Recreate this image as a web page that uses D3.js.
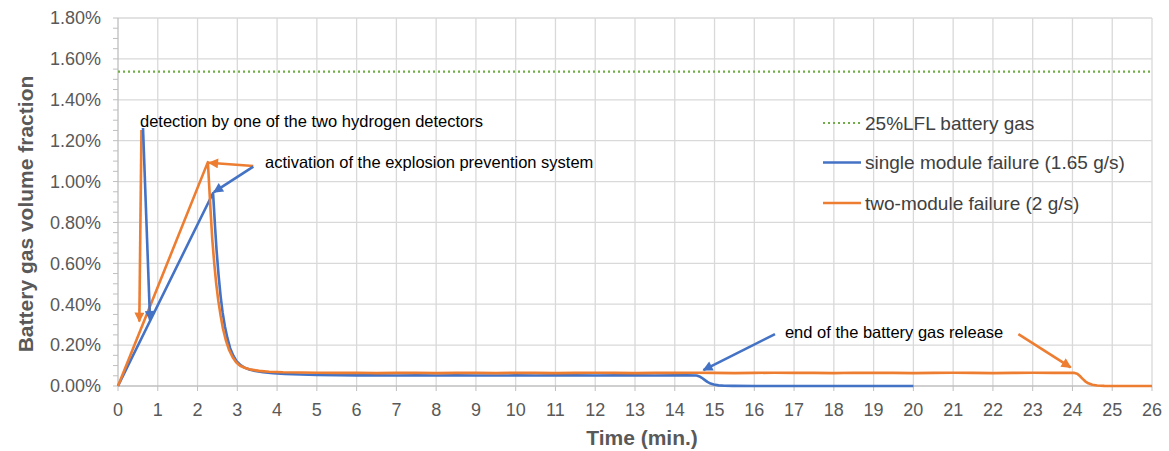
<!DOCTYPE html>
<html lang="en">
<head>
<meta charset="UTF-8">
<title>Battery gas volume fraction</title>
<script src="https://d3js.org/d3.v7.min.js"></script>
<style>
  body { margin: 0; background: #fff; }
  svg { font-family: "Liberation Sans", Arial, sans-serif; }
  .tick-label { font-size: 18px; fill: #595959; }
  .axis-title { font-size: 21px; font-weight: bold; fill: #595959; }
  .legend text { font-size: 19px; fill: #404040; }
  .note { font-size: 16.5px; fill: #000; }
</style>
</head>
<body>
<svg width="1169" height="451"></svg>
<script>
// ---- data (time in min., value in %) ----
var lflTime = [0, 26];
var lflValue = [1.5375, 1.5375];

var singleTime = [0, 2.39, 2.41, 2.44, 2.48, 2.53, 2.58, 2.63, 2.69, 2.75, 2.82, 2.90, 2.98, 3.07, 3.17, 3.3, 3.45, 3.65, 3.9, 4.2, 4.6, 5,
  5.5, 6, 6.5, 7, 7.5, 8, 8.5, 9, 9.5, 10, 10.5, 11, 11.5, 12, 12.5, 13, 13.5, 14, 14.3, 14.55,
  14.62, 14.68, 14.75, 14.82, 14.9, 14.98, 15.1, 15.25, 15.45, 16, 17, 18, 19, 20];
var singleValue = [0, 0.944, 0.88, 0.78, 0.66, 0.54, 0.44, 0.36, 0.29, 0.235, 0.185, 0.148, 0.122, 0.104, 0.091, 0.081, 0.074, 0.068, 0.063, 0.059, 0.056, 0.054,
  0.053, 0.052, 0.052, 0.051, 0.052, 0.051, 0.052, 0.051, 0.051, 0.052, 0.051, 0.052, 0.052, 0.051, 0.052, 0.052, 0.051, 0.052, 0.052, 0.051,
  0.047, 0.04, 0.03, 0.02, 0.012, 0.007, 0.003, 0.0012, 0.0004, 0, 0, 0, 0, 0];

var twoTime = [0, 2.26, 2.29, 2.33, 2.37, 2.42, 2.47, 2.52, 2.58, 2.64, 2.71, 2.79, 2.88, 2.97, 3.07, 3.2, 3.35, 3.55, 3.8, 4.15, 4.6, 5,
  5.5, 6, 6.5, 7, 7.5, 8, 8.5, 9, 9.5, 10, 10.5, 11, 11.5, 12, 12.5, 13, 13.5, 14, 14.5, 15, 15.5,
  16, 16.5, 17, 17.5, 18, 18.5, 19, 19.5, 20, 20.5, 21, 21.5, 22, 22.5, 23, 23.5, 24.05,
  24.12, 24.18, 24.25, 24.32, 24.4, 24.5, 24.62, 24.8, 25, 25.5, 26];
var twoValue = [0, 1.095, 0.99, 0.85, 0.72, 0.6, 0.5, 0.42, 0.345, 0.28, 0.225, 0.178, 0.142, 0.116, 0.099, 0.088, 0.080, 0.074, 0.070, 0.067, 0.066, 0.065,
  0.064, 0.065, 0.063, 0.064, 0.065, 0.063, 0.064, 0.064, 0.063, 0.065, 0.064, 0.063, 0.064, 0.065, 0.064, 0.063, 0.064, 0.064, 0.065, 0.064, 0.063,
  0.064, 0.065, 0.064, 0.064, 0.063, 0.065, 0.064, 0.064, 0.063, 0.064, 0.065, 0.064, 0.063, 0.064, 0.065, 0.064, 0.064,
  0.06, 0.05, 0.036, 0.023, 0.013, 0.006, 0.0025, 0.0008, 0.0002, 0, 0];

var xTicks = d3.range(0, 27, 1);
var yTicks = [0, 0.2, 0.4, 0.6, 0.8, 1.0, 1.2, 1.4, 1.6, 1.8];
var yMinorTicks = d3.range(0, 1.801, 0.05);

var seriesNames = ["25%LFL battery gas", "single module failure (1.65 g/s)", "two-module failure (2 g/s)"];
var seriesColors = ["#70AD47", "#4472C4", "#ED7D31"];

// annotations: [x1, y1, x2, y2] in data units, arrow at the second end
var arrows = [
  {c: "#ED7D31", p: [0.59, 1.252, 0.536, 0.315]},
  {c: "#4472C4", p: [0.629, 1.262, 0.805, 0.323]},
  {c: "#ED7D31", p: [3.402, 1.076, 2.29, 1.092]},
  {c: "#4472C4", p: [3.402, 1.073, 2.41, 0.948]},
  {c: "#4472C4", p: [16.52, 0.254, 14.72, 0.078]},
  {c: "#ED7D31", p: [22.64, 0.254, 23.955, 0.091]}
];
var notes = [
  {t: "detection by one of the two hydrogen detectors", x: 0.553, y: 1.267},
  {t: "activation of the explosion prevention system", x: 3.696, y: 1.066},
  {t: "end of the battery gas release", x: 16.77, y: 0.237}
];

// ---- layout ----
var margin = {top: 18, right: 17, bottom: 65, left: 118};
var W = 1169, H = 451;
var width = W - margin.left - margin.right;
var height = H - margin.top - margin.bottom;

var svg = d3.select("svg");
var g = svg.append("g").attr("transform", "translate(" + margin.left + "," + margin.top + ")");

var x = d3.scaleLinear().domain([0, 26]).range([0, width]);
var y = d3.scaleLinear().domain([0, 1.8]).range([height, 0]);

// gridlines
g.append("g").selectAll("line").data(xTicks.slice(1)).enter().append("line")
  .attr("x1", d => x(d)).attr("x2", d => x(d)).attr("y1", 0).attr("y2", height)
  .attr("stroke", "#d9d9d9").attr("stroke-width", 1.3);
g.append("g").selectAll("line").data(yTicks.slice(1)).enter().append("line")
  .attr("x1", 0).attr("x2", width).attr("y1", d => y(d)).attr("y2", d => y(d))
  .attr("stroke", "#d9d9d9").attr("stroke-width", 1.3);

// y axis with minor ticks
g.append("g").selectAll("line").data(yMinorTicks).enter().append("line")
  .attr("x1", -5).attr("x2", 0).attr("y1", d => y(d)).attr("y2", d => y(d))
  .attr("stroke", "#bfbfbf").attr("stroke-width", 1);
g.append("line").attr("x1", 0).attr("x2", 0).attr("y1", 0).attr("y2", height)
  .attr("stroke", "#bfbfbf").attr("stroke-width", 1.3);
g.append("g").selectAll("text").data(yTicks).enter().append("text")
  .attr("class", "tick-label")
  .attr("x", -17).attr("y", d => y(d)).attr("dy", "0.35em")
  .attr("text-anchor", "end")
  .text(d => d.toFixed(2) + "%");

// x axis
g.append("g").selectAll("line").data(xTicks).enter().append("line")
  .attr("x1", d => x(d)).attr("x2", d => x(d)).attr("y1", height).attr("y2", height + 5)
  .attr("stroke", "#bfbfbf").attr("stroke-width", 1);
g.append("line").attr("x1", 0).attr("x2", width).attr("y1", height).attr("y2", height)
  .attr("stroke", "#bfbfbf").attr("stroke-width", 1.3);
g.append("g").selectAll("text").data(xTicks).enter().append("text")
  .attr("class", "tick-label")
  .attr("x", d => x(d)).attr("y", height + 24).attr("dy", "0.35em")
  .attr("text-anchor", "middle")
  .text(d => d);

// axis titles
g.append("text").attr("class", "axis-title")
  .attr("x", width / 2 + 7).attr("y", height + 59)
  .attr("text-anchor", "middle")
  .text("Time (min.)");
g.append("text").attr("class", "axis-title")
  .attr("transform", "rotate(-90)")
  .attr("x", -(214 - margin.top)).attr("y", -margin.left + 33)
  .attr("text-anchor", "middle")
  .text("Battery gas volume fraction");

// series (straight segments; the rise is linear)
var line = d3.line().x(d => x(d[0])).y(d => y(d[1]));
function pts(t, v) { return t.map((d, i) => [d, v[i]]); }

g.append("path").datum(pts(lflTime, lflValue)).attr("d", line)
  .attr("fill", "none").attr("stroke", seriesColors[0]).attr("stroke-width", 2.2)
  .attr("stroke-dasharray", "2,3");
g.append("path").datum(pts(singleTime, singleValue)).attr("d", line)
  .attr("fill", "none").attr("stroke", seriesColors[1]).attr("stroke-width", 2.6)
  .attr("stroke-linejoin", "round");
g.append("path").datum(pts(twoTime, twoValue)).attr("d", line)
  .attr("fill", "none").attr("stroke", seriesColors[2]).attr("stroke-width", 2.6)
  .attr("stroke-linejoin", "round");

// arrow markers
var defs = svg.append("defs");
[["blue", "#4472C4"], ["orange", "#ED7D31"]].forEach(function(m) {
  defs.append("marker").attr("id", "head-" + m[0])
    .attr("viewBox", "0 0 10 10").attr("refX", 9).attr("refY", 5)
    .attr("markerUnits", "userSpaceOnUse")
    .attr("markerWidth", 12).attr("markerHeight", 10)
    .attr("orient", "auto")
    .append("path").attr("d", "M0,0 L10,5 L0,10 Z").attr("fill", m[1]);
});

g.append("g").selectAll("line").data(arrows).enter().append("line")
  .attr("x1", d => x(d.p[0])).attr("y1", d => y(d.p[1]))
  .attr("x2", d => x(d.p[2])).attr("y2", d => y(d.p[3]))
  .attr("stroke", d => d.c).attr("stroke-width", 2.6)
  .attr("marker-end", d => d.c == "#4472C4" ? "url(#head-blue)" : "url(#head-orange)");

g.append("g").selectAll("text").data(notes).enter().append("text")
  .attr("class", "note")
  .attr("x", d => x(d.x)).attr("y", d => y(d.y))
  .text(d => d.t);

// legend
var legend = svg.append("g").attr("class", "legend").attr("transform", "translate(823,123)");
seriesNames.forEach(function(name, i) {
  var row = legend.append("g").attr("transform", "translate(0," + [0, 39.5, 80][i] + ")");
  row.append("line").attr("x1", 0).attr("x2", 38).attr("y1", 0).attr("y2", 0)
    .attr("stroke", seriesColors[i]).attr("stroke-width", i == 0 ? 2.2 : 2.6)
    .attr("stroke-dasharray", i == 0 ? "2,3" : null);
  row.append("text").attr("x", 42).attr("y", 0).attr("dy", "0.35em").text(name);
});
</script>
</body>
</html>
